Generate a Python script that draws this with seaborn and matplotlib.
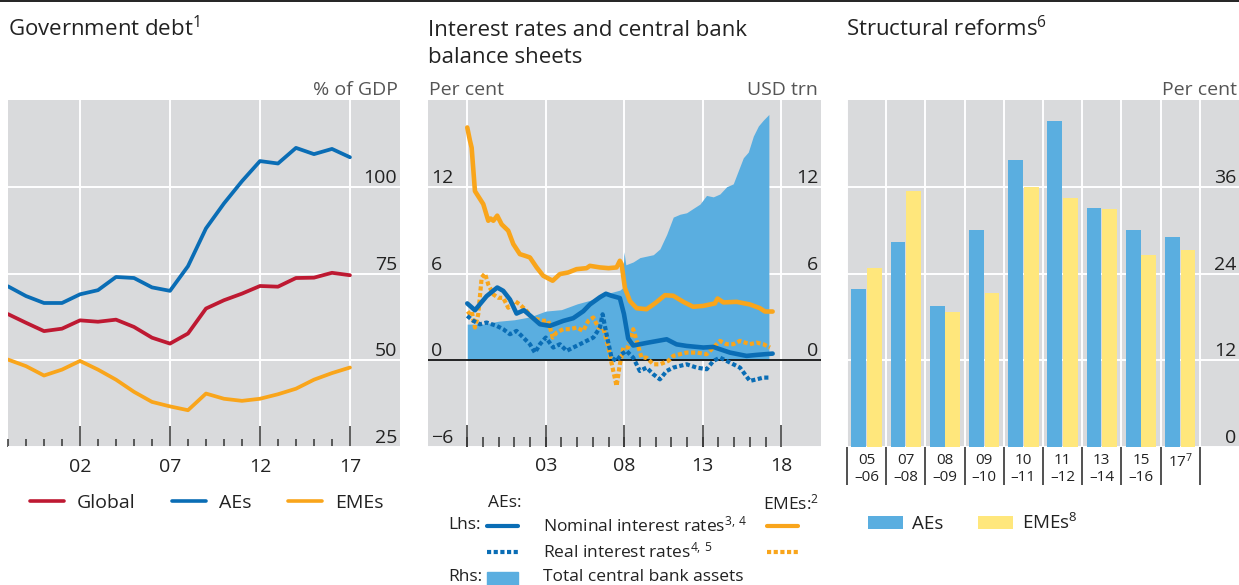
import numpy as np
import pandas as pd
import matplotlib.pyplot as plt
import seaborn as sns
from matplotlib.lines import Line2D
from matplotlib.patches import Rectangle
from matplotlib.collections import LineCollection

# ---- Panel 1: government debt, % of GDP ----
debt_years = list(range(1998, 2018))
global_debt = [63.3, 60.8, 58.4, 59.1, 61.5, 61.1, 61.7, 59.6, 56.5, 54.8,
               57.7, 64.9, 67.3, 69.2, 71.4, 71.2, 73.7, 73.8, 75.2, 74.5]
aes_debt = [71.3, 68.5, 66.5, 66.5, 69.0, 70.2, 74.0, 73.7, 71.0, 70.0,
            77.1, 88.0, 95.2, 101.6, 107.4, 106.7, 111.2, 109.4, 110.9, 108.5]
emes_debt = [50.2, 48.3, 45.6, 47.3, 49.8, 47.3, 44.4, 40.9, 38.0, 36.7,
             35.6, 40.4, 38.9, 38.3, 38.9, 40.2, 41.8, 44.4, 46.3, 47.9]

# ---- Panel 2: interest rates (lhs) and central bank assets (rhs) ----
assets_t = [1998.0, 1999.0, 2000.0, 2001.0, 2002.0, 2003.0, 2004.0, 2005.0, 2006.0,
            2006.87, 2007.72, 2007.89, 2007.98, 2008.1, 2008.57, 2009.0, 2009.85,
            2010.27, 2010.7, 2011.12, 2011.55, 2011.97, 2012.39, 2012.82, 2013.24,
            2013.67, 2014.09, 2014.52, 2014.94, 2015.26, 2015.58, 2015.9, 2016.22,
            2016.54, 2016.85, 2017.21]
assets_v = [2.5, 2.5, 2.7, 2.8, 3.0, 3.4, 3.5, 3.9, 4.2,
            4.6, 4.85, 5.0, 7.5, 6.6, 6.8, 7.1, 7.3,
            7.7, 8.7, 9.9, 10.1, 10.2, 10.5, 10.8, 11.4,
            11.3, 11.5, 12.0, 12.2, 13.1, 14.0, 14.4, 15.5,
            16.2, 16.6, 17.0]

aes_nom_t = [1998.0, 1998.49, 1999.23, 1999.91, 2000.29, 2000.72, 2001.14, 2001.61,
             2002.1, 2002.63, 2003.27, 2004.11, 2004.75, 2005.39, 2005.81, 2006.45,
             2006.83, 2007.19, 2007.72, 2007.98, 2008.25, 2008.57, 2009.42, 2010.7,
             2011.33, 2011.97, 2013.03, 2013.67, 2014.73, 2015.79, 2016.43, 2017.45]
aes_nom_v = [3.93, 3.46, 4.43, 5.03, 4.8, 4.2, 3.23, 3.46,
             3.0, 2.49, 2.38, 2.72, 2.91, 3.39, 3.86, 4.36,
             4.6, 4.46, 4.3, 3.2, 1.5, 1.02, 1.2, 1.45,
             1.1, 0.99, 0.88, 0.92, 0.53, 0.3, 0.37, 0.46]

emes_nom_t = [1998.0, 1998.17, 1998.28, 1998.49, 1999.02, 1999.34, 1999.49, 1999.66,
              1999.91, 2000.19, 2000.61, 2000.93, 2001.35, 2001.67, 2001.99, 2002.42,
              2002.84, 2003.44, 2003.9, 2004.43, 2004.96, 2005.6, 2005.81, 2006.45,
              2007.0, 2007.51, 2007.72, 2007.83, 2008.04, 2008.36, 2008.79, 2009.42,
              2009.95, 2010.59, 2011.12, 2011.76, 2012.39, 2013.03, 2013.77, 2013.94,
              2014.31, 2015.16, 2016.0, 2016.64, 2016.96, 2017.45]
emes_nom_v = [16.1, 15.2, 14.7, 11.7, 10.8, 9.65, 9.8, 9.65,
              10.0, 9.4, 8.96, 8.04, 7.34, 7.23, 7.11, 6.42,
              5.84, 5.5, 5.96, 6.07, 6.3, 6.37, 6.53, 6.42,
              6.37, 6.42, 6.88, 6.65, 5.0, 4.09, 3.6, 3.53,
              3.93, 4.5, 4.46, 4.04, 3.7, 3.76, 3.93, 4.27,
              4.0, 4.04, 3.86, 3.6, 3.37, 3.37]

aes_real_t = [1998.0, 1998.38, 1998.81, 1999.23, 1999.87, 2000.29, 2000.72, 2001.14,
              2001.57, 2001.99, 2002.31, 2002.63, 2003.0, 2003.48, 2003.9, 2004.33,
              2004.75, 2005.18, 2005.6, 2006.03, 2006.45, 2006.62, 2006.87, 2007.19,
              2007.51, 2007.83, 2008.14, 2008.57, 2008.99, 2009.42, 2009.85, 2010.27,
              2010.7, 2011.12, 2011.55, 2011.97, 2012.61, 2013.25, 2013.67, 2014.1,
              2014.73, 2015.37, 2016.0, 2016.43, 2016.86, 2017.28]
aes_real_v = [3.07, 2.73, 2.49, 2.61, 2.38, 2.15, 1.8, 2.03,
              1.57, 1.11, 0.53, 1.11, 1.57, 0.88, 1.11, 0.65,
              0.88, 1.11, 1.34, 1.57, 2.26, 3.18, 1.8, 0.18,
              -0.05, 0.42, 0.65, 0.18, -0.74, -0.51, -0.97, -1.32,
              -0.74, -0.51, -0.39, -0.28, -0.51, -0.62, -0.05, 0.18,
              -0.16, -0.51, -1.43, -1.32, -1.2, -1.2]

emes_real_t = [1998.0, 1998.28, 1998.49, 1998.7, 1998.92, 1999.13, 1999.34, 1999.66,
               1999.98, 2000.29, 2000.61, 2001.04, 2001.35, 2001.78, 2002.1, 2002.42,
               2002.84, 2003.16, 2003.44, 2003.69, 2004.11, 2004.54, 2004.96, 2005.39,
               2005.71, 2006.03, 2006.35, 2006.66, 2006.98, 2007.3, 2007.51, 2007.72,
               2007.94, 2008.25, 2008.57, 2008.79, 2009.1, 2009.42, 2009.85, 2010.27,
               2010.8, 2011.12, 2011.55, 2011.97, 2012.61, 2013.25, 2013.67, 2014.1,
               2014.52, 2014.95, 2015.37, 2016.0, 2016.43, 2016.86, 2017.28]
emes_real_v = [3.18, 3.41, 2.26, 3.18, 5.73, 6.0, 5.24, 4.55,
               4.32, 4.32, 3.63, 4.09, 3.86, 3.41, 2.96, 2.84,
               2.73, 2.73, 1.57, 1.91, 2.15, 2.15, 2.26, 2.03,
               2.73, 2.96, 2.26, 2.26, 0.88, -0.74, -1.78, -0.28,
               0.88, 0.88, 2.15, 1.34, 0.18, 0.18, -0.28, -0.28,
               -0.05, 0.3, 0.42, 0.53, 0.53, 0.42, 0.88, 1.34,
               1.11, 1.11, 1.34, 1.11, 1.22, 1.11, 0.88]

# ---- Panel 3: structural reforms, per cent ----
periods = ["05\n\u201306", "07\n\u201308", "08\n\u201309", "09\n\u201310", "10\n\u201311",
           "11\n\u201312", "13\n\u201314", "15\n\u201316", "17$^{7}$"]
aes_reforms = [21.9, 28.3, 19.5, 30.0, 39.7, 45.1, 33.0, 30.0, 29.0]
emes_reforms = [24.7, 35.4, 18.7, 21.3, 35.9, 34.5, 32.9, 26.6, 27.2]

# axis ticks of the middle panel
rate_major = [1998, 2003, 2008, 2013, 2018]
rate_major_labels = ["", "03", "08", "13", "18"]
rate_minor = list(range(1998, 2018))

# colours
RED = "#BE1932"
BLUE = "#0A6DB5"
ORANGE = "#F9A51B"
BAR_BLUE = "#5AAEE0"
YELLOW = "#FFE77C"
BG = "#D9DADC"
TXT = "#222222"
UNIT = "#555555"
TICK = "#333333"

sns.set_theme(style="darkgrid", rc={
    "axes.facecolor": BG, "grid.color": "white", "grid.linewidth": 1.4,
    "text.color": TXT, "xtick.color": TXT, "ytick.color": TXT,
    "xtick.bottom": True,
})
plt.rcParams["font.family"] = ["Open Sans", "DejaVu Sans"]
plt.rcParams["mathtext.fontset"] = "custom"
plt.rcParams["mathtext.rm"] = "Open Sans"
plt.rcParams["mathtext.it"] = "Open Sans:italic"
plt.rcParams["mathtext.bf"] = "Open Sans:bold"

W, H = 1239, 585
fig = plt.figure(figsize=(W / 100, H / 100), dpi=100)


def px_axes(x0, x1, y0, y1):
    return fig.add_axes([x0 / W, 1 - y1 / H, (x1 - x0) / W, (y1 - y0) / H])


def fx(x):
    return x / W


def fy(y):
    return 1 - y / H


ax1 = px_axes(8, 400, 100, 447)
ax2 = px_axes(428, 821, 100, 447)
ax3 = px_axes(847, 1239, 100, 447)
for ax in (ax1, ax2, ax3):
    for s in ax.spines.values():
        s.set_visible(False)

# ---------- panel 1 ----------
debt_df = pd.DataFrame({
    "year": debt_years * 3,
    "value": global_debt + aes_debt + emes_debt,
    "series": ["Global"] * 20 + ["AEs"] * 20 + ["EMEs"] * 20,
})
sns.lineplot(data=debt_df, x="year", y="value", hue="series",
             hue_order=["Global", "AEs", "EMEs"], palette=[RED, BLUE, ORANGE],
             lw=2.7, ax=ax1)
ax1.set_xlim(1998, 2019.78)
ax1.set_ylim(25, 125)
ax1.set_xlabel("")
ax1.set_ylabel("")
ax1.set_xticks([2002, 2007, 2012, 2017], ["02", "07", "12", "17"])
ax1.set_xticks(range(1998, 2018), minor=True)
ax1.tick_params(axis="x", which="major", bottom=True, direction="in", length=15,
                width=1.1, color=TICK, pad=8, labelsize=14)
ax1.tick_params(axis="x", which="minor", bottom=True, direction="in", length=6,
                width=1.1, color=TICK)
ax1.set_yticks([25, 50, 75, 100])
ax1.yaxis.tick_right()
ax1.set_yticklabels(["25", "50", "75", "100"], ha="right", va="bottom")
ax1.tick_params(axis="y", length=0, pad=-2, labelsize=14)
sns.move_legend(ax1, "center left", bbox_to_anchor=((30 - 8) / 392, -(503 - 447) / 347),
                ncol=3, frameon=False, title=None, handlelength=1.75,
                handletextpad=0.65, columnspacing=1.9, borderpad=0,
                borderaxespad=0, fontsize=14)
for ln in ax1.get_legend().get_lines():
    ln.set_linewidth(2.6)

# ---------- panel 2 ----------
ax2.fill_between(assets_t, assets_v, 0, color=BAR_BLUE, lw=0, zorder=1)
ax2.axhline(0, color="#111111", lw=1.3, zorder=2)
dot = (0, (1.0, 0.6))
sns.lineplot(x=emes_real_t, y=emes_real_v, ax=ax2, color=ORANGE, lw=3,
             linestyle=dot, dash_capstyle="butt", zorder=3)
sns.lineplot(x=aes_real_t, y=aes_real_v, ax=ax2, color=BLUE, lw=3,
             linestyle=dot, dash_capstyle="butt", zorder=3)
sns.lineplot(x=aes_nom_t, y=aes_nom_v, ax=ax2, color=BLUE, lw=3.3, zorder=4)
sns.lineplot(x=emes_nom_t, y=emes_nom_v, ax=ax2, color=ORANGE, lw=3.3, zorder=4)
ax2.set_xlim(1995.5, 2020.53)
ax2.set_ylim(-6, 18)
ax2.set_xticks(rate_major, rate_major_labels)
ax2.tick_params(axis="x", which="major", bottom=True, length=0, pad=7, labelsize=14)
ax2.set_yticks([-6, 0, 6, 12])
ax2.set_yticklabels(["\u22126", "0", "6", "12"], va="bottom")
ax2.tick_params(axis="y", length=0, pad=-2, labelsize=14,
                labelleft=True, labelright=True)
for i, t in enumerate(ax2.yaxis.get_major_ticks()):
    t.label1.set_horizontalalignment("left")
    t.label2.set_horizontalalignment("right")
    if i == 0:
        t.label2.set_visible(False)

# tick marks of the middle panel, drawn on top at figure level
xt = ax2.get_xaxis_transform()
segs = [[(x, 0), (x, 10 / 347)] for x in rate_minor] + \
       [[(x, 0), (x, 22 / 347)] for x in rate_major]
fig.add_artist(LineCollection(segs, colors=TICK, linewidths=1.1, transform=xt,
                              zorder=20))

# ---------- panel 3 ----------
reform_df = pd.DataFrame({
    "period": periods * 2,
    "value": aes_reforms + emes_reforms,
    "group": ["AEs"] * 9 + ["EMEs$^{8}$"] * 9,
})
sns.barplot(data=reform_df, x="period", y="value", hue="group",
            palette=[BAR_BLUE, YELLOW], saturation=1, width=0.8, gap=0.06,
            linewidth=0, ax=ax3)
ax3.set_xlim(-0.5, 9.5)
ax3.set_ylim(0, 48)
ax3.set_xlabel("")
ax3.set_ylabel("")
ax3.set_xticks(np.arange(-0.5, 9.0, 1.0), [""] * 10)
ax3.set_xticks(range(9), periods, minor=True)
ax3.tick_params(axis="x", which="major", bottom=True, direction="out", length=27,
                width=1.2, color=TICK)
ax3.tick_params(axis="x", which="minor", bottom=True, length=0, pad=4, labelsize=11)
ax3.xaxis.grid(True, which="major")
ax3.set_yticks([0, 12, 24, 36])
ax3.yaxis.tick_right()
ax3.set_yticklabels(["0", "12", "24", "36"], ha="right", va="bottom")
ax3.tick_params(axis="y", length=0, pad=-2, labelsize=14)
ax3.set_axisbelow(True)
sns.move_legend(ax3, "center left", bbox_to_anchor=((868 - 847) / 392, -(523 - 447) / 347),
                ncol=2, frameon=False, title=None, handlelength=1.85,
                handleheight=0.75, handletextpad=0.5, columnspacing=1.85,
                borderpad=0, borderaxespad=0, fontsize=13.5)

# ---------- titles and units ----------
fig.text(fx(8), fy(36), "Government debt$^{1}$", fontsize=16, va="baseline")
fig.text(fx(428), fy(36), "Interest rates and central bank", fontsize=16, va="baseline")
fig.text(fx(428), fy(63), "balance sheets", fontsize=16, va="baseline")
fig.text(fx(846), fy(36), "Structural reforms$^{6}$", fontsize=16, va="baseline")
fig.text(fx(398), fy(95), "% of GDP", fontsize=14, color=UNIT, ha="right", va="baseline")
fig.text(fx(429), fy(95), "Per cent", fontsize=14, color=UNIT, ha="left", va="baseline")
fig.text(fx(818), fy(95), "USD trn", fontsize=14, color=UNIT, ha="right", va="baseline")
fig.text(fx(1237), fy(95), "Per cent", fontsize=14, color=UNIT, ha="right", va="baseline")

# ---------- middle legend ----------
LS = 12.5
fig.text(fx(488), fy(503), "AEs:", fontsize=LS, va="center")
fig.text(fx(763), fy(503), "EMEs:$^{2}$", fontsize=LS, va="center")
fig.text(fx(448), fy(525), "Lhs:", fontsize=LS, va="center")
fig.text(fx(543), fy(525), "Nominal interest rates$^{3,\\,4}$", fontsize=LS, va="center")
fig.text(fx(543), fy(551), "Real interest rates$^{4,\\,5}$", fontsize=LS, va="center")
fig.text(fx(448), fy(577), "Rhs:", fontsize=LS, va="center")
fig.text(fx(543), fy(577), "Total central bank assets", fontsize=LS, va="center")
for x0, col in ((487, BLUE), (767, ORANGE)):
    fig.add_artist(Line2D([fx(x0), fx(x0 + 31)], [fy(526)] * 2, color=col, lw=3,
                          transform=fig.transFigure))
    fig.add_artist(Line2D([fx(x0), fx(x0 + 31)], [fy(552)] * 2, color=col, lw=3,
                          linestyle=dot, dash_capstyle="butt", transform=fig.transFigure))
fig.add_artist(Rectangle((fx(487), fy(585)), 31 / W, 13 / H, color=BAR_BLUE,
                         transform=fig.transFigure))

# top rule
fig.add_artist(Line2D([0, 1], [fy(0.8)] * 2, color="#111111", lw=1.3,
                      transform=fig.transFigure))

fig.savefig("out.png", dpi=100)
